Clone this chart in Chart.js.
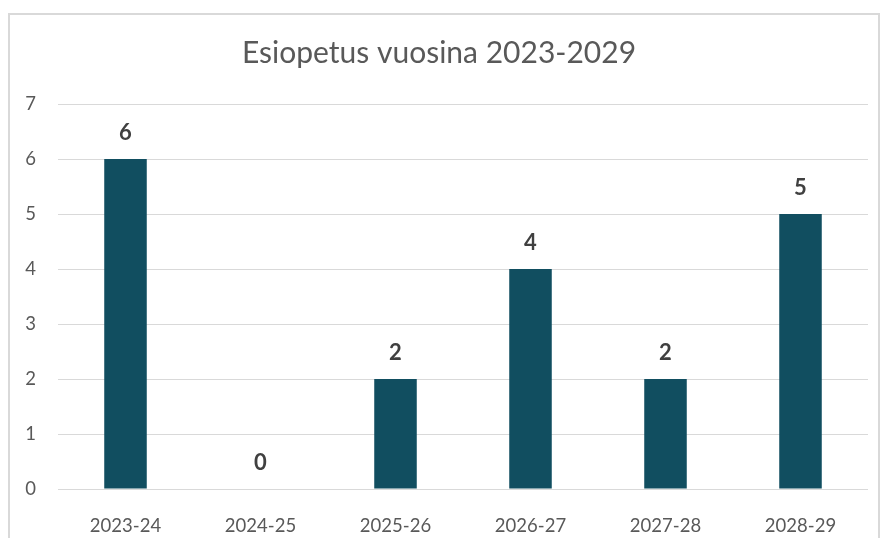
<!DOCTYPE html>
<html>
<head>
<meta charset="utf-8">
<script src="https://cdn.jsdelivr.net/npm/chart.js@4.4.0/dist/chart.umd.min.js"></script>
<style>
  html, body { margin: 0; padding: 0; background: #fff; overflow: hidden; }
  #kehys {
    position: absolute; left: 8px; top: 13px; width: 872px; height: 540px;
    border: 2px solid #d9d9d9; border-bottom: none; box-sizing: border-box;
  }
  #kaavio { position: absolute; left: 0; top: 0; }
</style>
</head>
<body>
<div id="kehys"><canvas id="kaavio" width="868" height="523"></canvas></div>
<script>
// Lukuvuodet ja esiopetuksen määrät
const vuodet = ['2023-24', '2024-25', '2025-26', '2026-27', '2027-28', '2028-29'];
const maarat = [6, 0, 2, 4, 2, 5];
const otsikko = 'Esiopetus vuosina 2023-2029';
const yMax = 7;

const fontti = 'Lato, "Open Sans", sans-serif';

// Arvot pylväiden yläpuolelle
const arvoPlugin = {
    id: 'arvot',
    afterDatasetsDraw(chart) {
        const ctx = chart.ctx;
        const meta = chart.getDatasetMeta(0);
        ctx.save();
        ctx.font = 'bold 22px ' + fontti;
        ctx.fillStyle = '#404040';
        ctx.textAlign = 'center';
        ctx.textBaseline = 'middle';
        meta.data.forEach((bar, i) => {
            ctx.fillText(String(maarat[i]), bar.x, bar.y - 26);
        });
        ctx.restore();
    }
};

new Chart(document.getElementById('kaavio').getContext('2d'), {
    type: 'bar',
    data: {
        labels: vuodet,
        datasets: [{
            data: maarat,
            backgroundColor: '#114e60',
            borderWidth: 0,
            barPercentage: 0.315,
            categoryPercentage: 1,
        }],
    },
    options: {
        responsive: false,
        animation: false,
        layout: { padding: { left: 0, right: 10, top: 0, bottom: 0 } },
        plugins: {
            legend: { display: false },
            tooltip: { enabled: false },
            title: {
                display: true,
                text: otsikko,
                color: '#595959',
                font: { family: fontti, size: 30, weight: 'normal' },
                padding: { top: 20, bottom: 33 },
            },
        },
        scales: {
            x: {
                grid: { display: false },
                border: { display: false },
                ticks: { color: '#595959', font: { family: fontti, size: 18.5 }, padding: 18 },
                afterFit(s) { s.height = 49; },
            },
            y: {
                min: 0,
                max: yMax,
                border: { display: false },
                grid: { color: '#d9d9d9', lineWidth: 1, drawTicks: false },
                ticks: { stepSize: 1, color: '#595959', font: { family: fontti, size: 18.5 }, padding: 22 },
                afterFit(s) { s.width = 48; },
            },
        },
    },
    plugins: [arvoPlugin],
});
</script>
</body>
</html>
